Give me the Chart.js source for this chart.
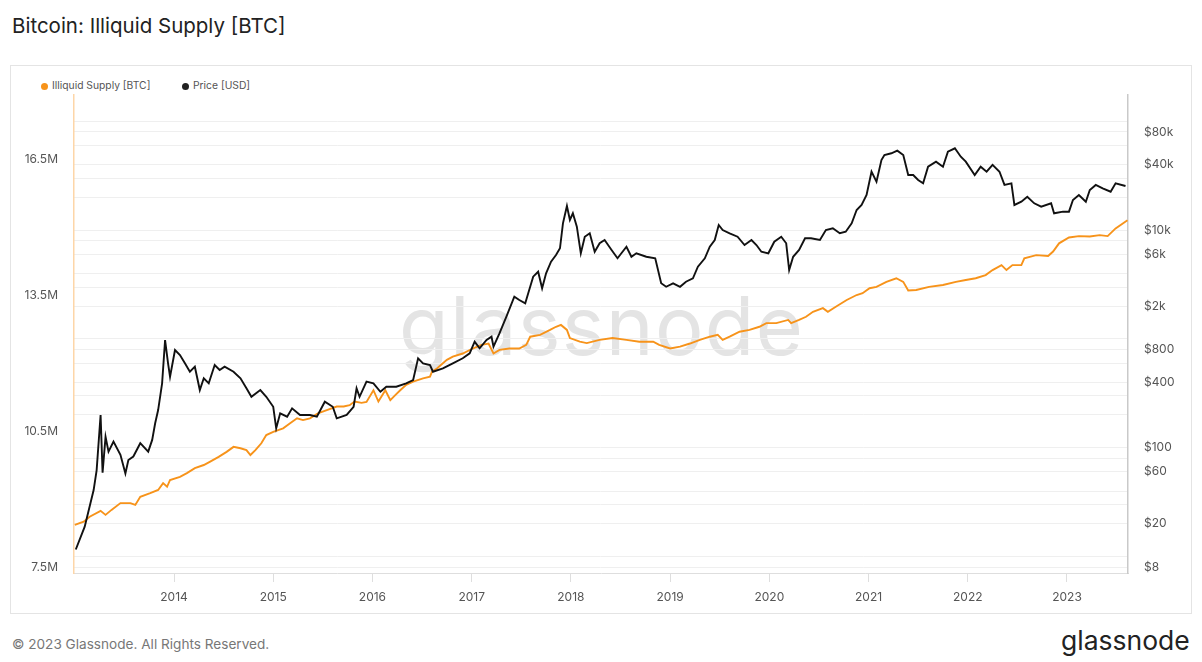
<!DOCTYPE html>
<html>
<head>
<meta charset="utf-8">
<title>Bitcoin: Illiquid Supply [BTC]</title>
<script src="https://cdn.jsdelivr.net/npm/chart.js@4.4.0/dist/chart.umd.min.js"></script>
<style>
  body { margin: 0; width: 1202px; height: 662px; background: #fff; position: relative; overflow: hidden;
         font-family: Inter, "Open Sans", sans-serif; }
  #title { position: absolute; left: 12px; top: 13px; font-size: 20.5px; color: #222; }
  #box { position: absolute; left: 10px; top: 65px; width: 1180px; height: 547px; border: 1px solid #e4e4e4; }
  #mark { position: absolute; left: 399px; top: 286px; font-size: 81px; line-height: 81px; color: #e4e4e4; letter-spacing: 1.3px; }
  #chart { position: absolute; left: 11px; top: 66px; }
  .leg { position: absolute; top: 78px; font-size: 10.3px; color: #555; line-height: 14px; }
  .dot { display: inline-block; width: 7px; height: 7px; border-radius: 50%; margin-right: 4px; vertical-align: -0.5px; }
  #foot { position: absolute; left: 12px; top: 636px; font-size: 13.6px; color: #777; }
  #logo { position: absolute; left: 1061px; top: 624px; font-size: 26.5px; color: #222; }
</style>
</head>
<body>
<div id="title">Bitcoin: Illiquid Supply [BTC]</div>
<div id="box"></div>
<div id="mark">glassnode</div>
<div class="leg" style="left:41px"><span class="dot" style="background:#f7931a"></span>Illiquid Supply [BTC]</div>
<div class="leg" style="left:182px"><span class="dot" style="background:#222"></span>Price [USD]</div>
<canvas id="chart" width="1180" height="547"></canvas>
<div id="foot">© 2023 Glassnode. All Rights Reserved.</div>
<div id="logo">glassnode</div>
<script>
// years shown on the time axis
const yearTicks = [2014, 2015, 2016, 2017, 2018, 2019, 2020, 2021, 2022, 2023];

// left axis (illiquid supply, millions of BTC)
const supplyTicks = [7.5, 10.5, 13.5, 16.5];
// right axis (price, log): gridlines at all of these, labels only on priceLabels
const priceGrid = [8, 10, 20, 30, 40, 60, 80, 100, 200, 300, 400, 600, 800, 1000, 2000, 3000, 4000, 6000, 8000,
                   10000, 20000, 30000, 40000, 60000, 80000, 100000];
const priceLabels = { 8: '$8', 20: '$20', 60: '$60', 100: '$100', 400: '$400', 800: '$800', 2000: '$2k',
                      6000: '$6k', 10000: '$10k', 40000: '$40k', 80000: '$80k' };

// illiquid supply (decimal year, millions BTC)
const supplyDates = [2013.00, 2013.09, 2013.15, 2013.26, 2013.31, 2013.37, 2013.46, 2013.56, 2013.61, 2013.66,
  2013.76, 2013.84, 2013.89, 2013.93, 2013.96, 2014.06, 2014.13, 2014.21, 2014.30, 2014.36, 2014.45, 2014.53,
  2014.60, 2014.67, 2014.73, 2014.77, 2014.82, 2014.88, 2014.93, 2015.00, 2015.05, 2015.10, 2015.17, 2015.24,
  2015.30, 2015.37, 2015.45, 2015.54, 2015.64, 2015.71, 2015.77, 2015.82, 2015.89, 2015.94, 2016.01, 2016.06,
  2016.13, 2016.18, 2016.23, 2016.28, 2016.34, 2016.41, 2016.51, 2016.58, 2016.60, 2016.65, 2016.75, 2016.81,
  2016.91, 2017.01, 2017.10, 2017.17, 2017.22, 2017.28, 2017.38, 2017.48, 2017.55, 2017.59, 2017.69, 2017.79,
  2017.85, 2017.90, 2017.96, 2017.99, 2018.09, 2018.16, 2018.29, 2018.42, 2018.56, 2018.69, 2018.83, 2018.89,
  2019.00, 2019.10, 2019.20, 2019.30, 2019.40, 2019.48, 2019.53, 2019.60, 2019.70, 2019.80, 2019.90, 2019.97,
  2020.07, 2020.19, 2020.22, 2020.30, 2020.37, 2020.44, 2020.54, 2020.59, 2020.67, 2020.78, 2020.88, 2020.94,
  2021.01, 2021.08, 2021.18, 2021.28, 2021.35, 2021.40, 2021.48, 2021.61, 2021.75, 2021.88, 2021.98, 2022.08,
  2022.18, 2022.25, 2022.34, 2022.39, 2022.45, 2022.54, 2022.57, 2022.69, 2022.81, 2022.86, 2022.92, 2023.02,
  2023.12, 2023.23, 2023.33, 2023.41, 2023.49, 2023.61];
const supplyValues = [8.43, 8.50, 8.61, 8.74, 8.65, 8.76, 8.91, 8.91, 8.87, 9.05,
  9.13, 9.20, 9.35, 9.27, 9.42, 9.49, 9.57, 9.68, 9.75, 9.82, 9.93, 10.04,
  10.15, 10.12, 10.08, 9.97, 10.08, 10.23, 10.41, 10.48, 10.52, 10.56, 10.67, 10.78,
  10.74, 10.78, 10.89, 10.96, 11.04, 11.04, 11.07, 11.15, 11.12, 11.14, 11.40, 11.15,
  11.40, 11.18, 11.29, 11.40, 11.52, 11.59, 11.66, 11.70, 11.81, 11.88, 12.07, 12.14,
  12.21, 12.32, 12.40, 12.43, 12.21, 12.29, 12.32, 12.32, 12.40, 12.58, 12.62, 12.73,
  12.80, 12.84, 12.73, 12.55, 12.47, 12.44, 12.51, 12.55, 12.51, 12.47, 12.47, 12.40,
  12.32, 12.36, 12.43, 12.51, 12.58, 12.62, 12.51, 12.58, 12.69, 12.73, 12.80, 12.88,
  12.88, 12.95, 12.88, 12.95, 13.02, 13.13, 13.21, 13.13, 13.24, 13.39, 13.50, 13.54,
  13.65, 13.68, 13.79, 13.87, 13.79, 13.60, 13.61, 13.68, 13.72, 13.79, 13.83, 13.87,
  13.94, 14.05, 14.16, 14.05, 14.16, 14.16, 14.31, 14.38, 14.36, 14.46, 14.64, 14.77,
  14.80, 14.79, 14.82, 14.80, 14.97, 15.15];

// BTC price (decimal year, USD)
const priceDates = [2013.01, 2013.10, 2013.19, 2013.22, 2013.26, 2013.28, 2013.31, 2013.34, 2013.39, 2013.46,
  2013.51, 2013.54, 2013.59, 2013.66, 2013.74, 2013.78, 2013.81, 2013.84, 2013.88, 2013.91, 2013.94, 2013.96,
  2014.01, 2014.06, 2014.11, 2014.16, 2014.21, 2014.26, 2014.30, 2014.35, 2014.41, 2014.46, 2014.51, 2014.60,
  2014.67, 2014.73, 2014.78, 2014.87, 2014.93, 2015.00, 2015.03, 2015.07, 2015.14, 2015.19, 2015.27, 2015.37,
  2015.44, 2015.52, 2015.60, 2015.64, 2015.74, 2015.81, 2015.84, 2015.87, 2015.94, 2016.01, 2016.08, 2016.14,
  2016.24, 2016.34, 2016.41, 2016.46, 2016.51, 2016.58, 2016.61, 2016.71, 2016.81, 2016.91, 2016.98, 2017.03,
  2017.08, 2017.15, 2017.20, 2017.22, 2017.28, 2017.35, 2017.43, 2017.48, 2017.54, 2017.57, 2017.62, 2017.67,
  2017.71, 2017.75, 2017.80, 2017.85, 2017.89, 2017.92, 2017.96, 2017.99, 2018.02, 2018.06, 2018.10, 2018.14,
  2018.19, 2018.24, 2018.29, 2018.34, 2018.41, 2018.47, 2018.56, 2018.61, 2018.66, 2018.76, 2018.85, 2018.91,
  2018.96, 2019.03, 2019.10, 2019.16, 2019.23, 2019.28, 2019.35, 2019.40, 2019.45, 2019.49, 2019.53, 2019.60,
  2019.68, 2019.75, 2019.82, 2019.87, 2019.92, 2019.99, 2020.05, 2020.12, 2020.17, 2020.20, 2020.24, 2020.30,
  2020.36, 2020.42, 2020.51, 2020.57, 2020.64, 2020.71, 2020.77, 2020.83, 2020.88, 2020.93, 2020.98, 2021.03,
  2021.08, 2021.13, 2021.16, 2021.23, 2021.29, 2021.35, 2021.40, 2021.45, 2021.50, 2021.55, 2021.60, 2021.68,
  2021.75, 2021.80, 2021.87, 2021.93, 2021.98, 2022.07, 2022.13, 2022.19, 2022.25, 2022.32, 2022.37, 2022.44,
  2022.47, 2022.54, 2022.60, 2022.67, 2022.74, 2022.84, 2022.87, 2022.96, 2023.02, 2023.06, 2023.12, 2023.19,
  2023.23, 2023.29, 2023.36, 2023.44, 2023.49, 2023.59];
const priceValues = [11.6, 18.8, 40.8, 62, 200, 59, 126, 92, 114, 86,
  58, 77, 83, 110, 92, 118, 168, 222, 391, 978, 597, 450,
  791, 712, 597, 500, 556, 339, 435, 391, 576, 518, 556, 500,
  435, 352, 294, 339, 294, 238, 151, 207, 193, 230, 200, 200,
  193, 265, 238, 186, 200, 238, 352, 294, 405, 391, 327, 364,
  364, 391, 419, 664, 597, 576, 500, 537, 597, 664, 738, 944,
  820, 978, 1049, 849, 1127, 1602, 2447, 2281, 2127, 2628, 3736, 4153,
  2923, 4015, 5131, 5916, 6818, 11570, 16700, 12410, 14300, 10770, 6131, 8710,
  9370, 6340, 7580, 8130, 6580, 5520, 7050, 5700, 6131, 5700, 5520, 3250,
  3020, 3250, 3020, 3360, 3610, 4616, 5520, 7050, 8130, 11170, 10040, 9370,
  8710, 7310, 8130, 7310, 6340, 6131, 7840, 8710, 7580, 4305, 5700, 6580,
  8430, 8430, 8130, 10040, 10400, 9370, 9690, 11570, 15340, 17060, 21080, 34500,
  27920, 44210, 49160, 50950, 53850, 49160, 32200, 32200, 28970, 26990, 38370, 42660,
  38370, 52720, 56620, 47420, 42660, 32200, 38370, 34500, 39810, 34500, 26060, 26990,
  17060, 18280, 20320, 17660, 16440, 17660, 14300, 14800, 14800, 18960, 21080, 18280,
  23420, 26060, 24270, 22590, 26990, 25470];

const supplyPoints = supplyDates.map((d, i) => ({ x: d, y: supplyValues[i] }));
const pricePoints = priceDates.map((d, i) => ({ x: d, y: priceValues[i] }));

const tickFont = { family: 'Inter, "Open Sans", sans-serif', size: 12 };

new Chart(document.getElementById('chart'), {
  type: 'line',
  data: {
    datasets: [
      {
        label: 'Price [USD]',
        data: pricePoints,
        yAxisID: 'price',
        borderColor: '#111',
        borderWidth: 1.9,
        pointRadius: 0,
        tension: 0
      },
      {
        label: 'Illiquid Supply [BTC]',
        data: supplyPoints,
        yAxisID: 'supply',
        borderColor: '#f7931a',
        borderWidth: 1.9,
        pointRadius: 0,
        tension: 0
      }
    ]
  },
  options: {
    responsive: false,
    animation: false,
    devicePixelRatio: 1,
    layout: { padding: { top: 29, left: 0, right: 0, bottom: 0 } },
    plugins: { legend: { display: false }, tooltip: { enabled: false } },
    scales: {
      x: {
        type: 'linear',
        min: 2012.992,
        max: 2023.615,
        afterBuildTicks: (axis) => { axis.ticks = yearTicks.map(v => ({ value: v })); },
        afterFit: (axis) => { axis.height = 40; },
        ticks: { callback: (v) => String(v), color: '#555', font: tickFont, padding: 8, maxRotation: 0, autoSkip: false },
        grid: { drawOnChartArea: false, drawTicks: true, tickLength: 9, color: '#dedede' },
        border: { color: '#dedede' }
      },
      supply: {
        type: 'linear',
        position: 'left',
        min: 7.368,
        max: 17.912,
        afterBuildTicks: (axis) => { axis.ticks = supplyTicks.map(v => ({ value: v })); },
        afterFit: (axis) => { axis.width = 63; },
        ticks: { callback: (v) => v + 'M', color: '#555', font: tickFont, padding: 16, autoSkip: false },
        grid: { drawOnChartArea: false, drawTicks: false },
        border: { color: '#fdd6a8', width: 1.5 }
      },
      price: {
        type: 'logarithmic',
        position: 'right',
        min: 7.05,
        max: 175000,
        afterBuildTicks: (axis) => { axis.ticks = priceGrid.map(v => ({ value: v })); },
        afterFit: (axis) => { axis.width = 63; },
        ticks: { callback: (v) => priceLabels[v] || '', color: '#555', font: tickFont, padding: 16, autoSkip: false },
        grid: { drawTicks: false, color: '#efefef' },
        border: { color: '#c9c9c9', width: 1.5 }
      }
    }
  }
});
</script>
</body>
</html>
